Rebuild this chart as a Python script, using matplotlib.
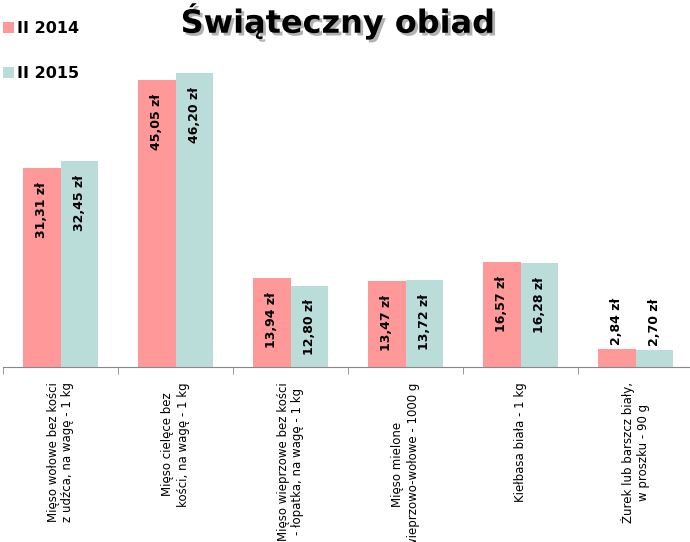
import matplotlib
matplotlib.use("Agg")
import matplotlib.pyplot as plt
import matplotlib.patheffects as pe
import numpy as np

categories = [
    "Mięso wołowe bez kości\nz udźca, na wagę - 1 kg",
    "Mięso cielęce bez\nkości, na wagę - 1 kg",
    "Mięso wieprzowe bez kości\n- łopatka, na wagę - 1 kg",
    "Mięso mielone\nwieprzowo-wołowe - 1000 g",
    "Kiełbasa biała - 1 kg",
    "Żurek lub barszcz biały,\nw proszku - 90 g",
]
series_names = ["II 2014", "II 2015"]
values_2014 = [31.31, 45.05, 13.94, 13.47, 16.57, 2.84]
values_2015 = [32.45, 46.20, 12.80, 13.72, 16.28, 2.70]

colors = ["#FF9999", "#BBDDDA"]

W, H = 690, 542
fig = plt.figure(figsize=(W / 100, H / 100), dpi=100)
ax = fig.add_axes([3 / W, (H - 367) / H, 1.0, 318 / H])
ax.set_xlim(-0.5, 5.5)
ax.set_ylim(0, 50)

x = np.arange(len(categories))
bw = 0.33
for k, (vals, col, name) in enumerate(zip([values_2014, values_2015], colors, series_names)):
    pos = x + (k - 0.5) * bw
    bars = ax.bar(pos, vals, width=bw, color=col, label=name, zorder=2)
    for p, v in zip(pos, vals):
        txt = f"{v:.2f}".replace(".", ",") + " zł"
        if v > 6:
            ax.annotate(txt, (p, v), xytext=(0, -10), textcoords="offset points",
                        rotation=90, ha="center", va="top", fontsize=9,
                        fontweight="bold", color="black")
        else:
            ax.annotate(txt, (p, v), xytext=(0, 3), textcoords="offset points",
                        rotation=90, ha="center", va="bottom", fontsize=9,
                        fontweight="bold", color="black")

for s in ["top", "right", "left"]:
    ax.spines[s].set_visible(False)
ax.spines["bottom"].set_color("#888888")
ax.set_yticks([])
ax.set_xticks(x)
ax.set_xticklabels(categories, rotation=90, fontsize=8.5, multialignment="center", va="top")
ax.tick_params(axis="x", which="major", length=0, pad=11)
ax.set_xticks(np.arange(-0.5, 6, 1), minor=True)
ax.tick_params(axis="x", which="minor", length=5, color="#888888")

fig.text(338 / W, 1 - 21 / H, "Świąteczny obiad", ha="center", va="center",
         fontsize=23, fontweight="bold", color="black",
         path_effects=[pe.SimplePatchShadow(offset=(2, -2), shadow_rgbFace="gray", alpha=0.6),
                       pe.Normal()])

leg = fig.legend(loc="upper left", bbox_to_anchor=(3 / W, 1.0 - 21 / H), frameon=False,
                 borderpad=0, borderaxespad=0,
                 handlelength=0.7, handleheight=0.7, handletextpad=0.2,
                 labelspacing=1.9, prop={"weight": "bold", "size": 11.5})

fig.savefig("out.png", dpi=100)
